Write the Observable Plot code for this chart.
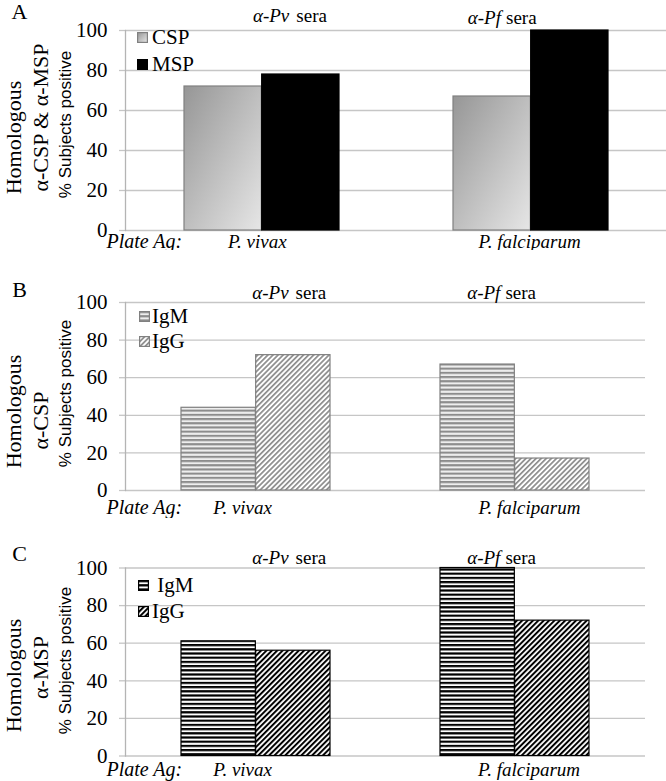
<!DOCTYPE html>
<html><head><meta charset="utf-8">
<script src="https://cdn.jsdelivr.net/npm/d3@7"></script>
<script src="https://cdn.jsdelivr.net/npm/@observablehq/plot@0.6"></script>
<style>
body{margin:0;background:#fff;}
.panel{position:relative;width:666px;}
.panel svg{display:block;}
.panel svg text{font-family:"Liberation Serif","Times New Roman","DejaVu Serif",serif;}
.panel svg g[font-family="Liberation Sans"] text{font-family:"Liberation Sans",Arial,sans-serif;}
.lg{position:absolute;display:flex;align-items:center;height:24px;white-space:nowrap;font-family:"Liberation Serif","Times New Roman",serif;font-size:21px;color:#000;}
.lg svg{display:block;}
</style></head>
<body>
<svg width="0" height="0" style="position:absolute">
<defs>
<linearGradient id="gradCSP" x1="0" y1="0" x2="1" y2="1">
<stop offset="0" stop-color="#969696"/><stop offset="1" stop-color="#e6e6e6"/>
</linearGradient>
<pattern id="hGray" patternUnits="userSpaceOnUse" width="8" height="4.2">
<rect width="8" height="4.2" fill="#eeeeee"/><rect width="8" height="2.1" fill="#8c8c8c"/>
</pattern>
<pattern id="dGray" patternUnits="userSpaceOnUse" width="3.6" height="8" patternTransform="rotate(45)">
<rect width="3.6" height="8" fill="#ffffff"/><rect width="1.7" height="8" fill="#8c8c8c"/>
</pattern>
<pattern id="hBlack" patternUnits="userSpaceOnUse" width="8" height="4.2">
<rect width="8" height="4.2" fill="#ffffff"/><rect width="8" height="2.2" fill="#000000"/>
</pattern>
<pattern id="dBlack" patternUnits="userSpaceOnUse" width="3.8" height="8" patternTransform="rotate(45)">
<rect width="3.8" height="8" fill="#ffffff"/><rect width="2" height="8" fill="#000000"/>
</pattern>
</defs>
</svg>
<div id="root"></div>
<script>
// ---- data ----
const groups = ["P. vivax", "P. falciparum"];
const seraLabels = ["α-Pv", "α-Pf"];
const yTicks = [0, 20, 40, 60, 80, 100];

const seriesA = ["CSP", "MSP"];
const valuesA_CSP = [72, 67];
const valuesA_MSP = [78, 100];

const seriesB = ["IgM", "IgG"];
const valuesB_IgM = [44, 67];
const valuesB_IgG = [72, 17];

const seriesC = ["IgM", "IgG"];
const valuesC_IgM = [61, 100];
const valuesC_IgG = [56, 72];

const SERIF = "Liberation Serif";
const SANS = "Liberation Sans";

function makePanel(c) {
  const ml = 125, W = 666, pi = 0.424, po = 0.215;
  const step = (W - ml - c.mr) / (groups.length - pi + 2 * po);
  const half = step * (1 - pi) / 2;
  const rows = (vals, s) => groups.map((g, i) => ({group: g, series: s, value: vals[i]}));
  const d0 = rows(c.vals[0], c.series[0]);
  const d1 = rows(c.vals[1], c.series[1]);
  const T = (extra) => Object.assign({text: d => d, fill: "#000", fontFamily: SERIF, textAnchor: "middle", lineAnchor: "middle"}, extra);
  const marks = [
    Plot.gridY({ticks: yTicks, stroke: "#c6c6c6", strokeOpacity: 1, strokeWidth: 1.3}),
    Plot.axisY({ticks: yTicks, tickSize: 6, tickPadding: 12, stroke: "#c6c6c6", strokeWidth: 1.3, fill: "#000", fontSize: 21, fontFamily: SERIF, label: null, tickFormat: d => d}),
    Plot.frame({anchor: "left", stroke: "#b4b4b4", strokeWidth: 1.3}),
    Plot.barY(d0, {x: "group", y: "value", fill: c.fills[0], stroke: c.strokes[0], strokeWidth: 1.2, insetRight: half}),
    Plot.barY(d1, {x: "group", y: "value", fill: c.fills[1], stroke: c.strokes[1], strokeWidth: 1.2, insetLeft: half}),
    // panel letter
    Plot.text([c.letter], T({frameAnchor: "top-left", dx: -106, dy: c.letterDy, fontSize: 22})),
    // rotated left labels
    Plot.text([c.ylab1], T({frameAnchor: "left", rotate: -90, dx: -112, dy: c.ylab1Dy, fontSize: 22})),
    Plot.text([c.ylab2], T({frameAnchor: "left", rotate: -90, dx: -85, dy: c.ylab2Dy, fontSize: 22})),
    Plot.text(["% Subjects positive"], T({frameAnchor: "left", rotate: -90, dx: -60, dy: c.subjDy, fontSize: 17, fontFamily: SANS})),
    // x labels
    Plot.text(["Plate Ag:"], T({frameAnchor: "bottom-left", textAnchor: "start", dx: -19, dy: c.xDy, fontSize: 20, fontStyle: "italic"})),
    Plot.text([groups[0]], T({x: d => d, frameAnchor: "bottom", dx: c.xDx[0], dy: c.xDy, fontSize: 19, fontStyle: "italic"})),
    Plot.text([groups[1]], T({x: d => d, frameAnchor: "bottom", dx: c.xDx[1], dy: c.xDy, fontSize: 19, fontStyle: "italic"})),
    // sera labels
    Plot.text([seraLabels[0]], T({x: () => groups[0], frameAnchor: "top", textAnchor: "end", dx: c.seraDx[0], dy: c.seraDy[0], fontSize: 19, fontStyle: "italic"})),
    Plot.text(["sera"], T({x: () => groups[0], frameAnchor: "top", textAnchor: "start", dx: c.seraDx[0] + 7, dy: c.seraDy[0], fontSize: 19})),
    Plot.text([seraLabels[1]], T({x: () => groups[1], frameAnchor: "top", textAnchor: "end", dx: c.seraDx[1], dy: c.seraDy[1], fontSize: 19, fontStyle: "italic"})),
    Plot.text(["sera"], T({x: () => groups[1], frameAnchor: "top", textAnchor: "start", dx: c.seraDx[1] + 5, dy: c.seraDy[1], fontSize: 19}))
  ];
  const svg = Plot.plot({
    width: W, height: c.h,
    marginLeft: ml, marginRight: c.mr, marginTop: c.mt, marginBottom: c.mb,
    style: {fontFamily: SERIF, background: "white", overflow: "visible", color: "#000"},
    x: {domain: groups, paddingInner: pi, paddingOuter: po, axis: null},
    y: {domain: [0, 100], axis: null},
    marks
  });
  const div = document.createElement("div");
  div.className = "panel";
  div.style.height = c.h + "px";
  div.appendChild(svg);
  // legend
  c.series.forEach((s, i) => {
    const item = document.createElement("div");
    item.className = "lg";
    item.style.left = c.lg.x + "px";
    item.style.top = (c.lg.y[i] - 12) + "px";
    item.innerHTML = `<svg width="11" height="11" style="margin-right:${c.lg.gap}px"><rect x="0.6" y="0.6" width="9.8" height="9.8" fill="${c.fills[i]}" stroke="${c.strokes[i]}" stroke-width="1.2"/></svg><span>${s}</span>`;
    div.appendChild(item);
  });
  return div;
}

const root = document.getElementById("root");
root.appendChild(makePanel({
  h: 250, mt: 30, mb: 20, mr: 0, letter: "A",
  series: seriesA, vals: [valuesA_CSP, valuesA_MSP],
  fills: ["url(#gradCSP)", "#000000"], strokes: ["#808080", "#000000"],
  letterDy: -18.5, ylab1: "Homologous", ylab2: "α-CSP & α-MSP", ylab1Dy: 7, ylab2Dy: -13, subjDy: -6,
  xDy: 11, xDx: [-4.7, -1.4], seraDx: [27.3, -30], seraDy: [-15, -12.5],
  lg: {x: 137, y: [37, 64], gap: 4}
}));
root.appendChild(makePanel({
  h: 268, mt: 52, mb: 28, mr: 21, letter: "B",
  series: seriesB, vals: [valuesB_IgM, valuesB_IgG],
  fills: ["url(#hGray)", "url(#dGray)"], strokes: ["#808080", "#808080"],
  letterDy: -13, ylab1: "Homologous", ylab2: "α-CSP", ylab1Dy: 15, ylab2Dy: 24, subjDy: -3,
  xDy: 17, xDx: [-13.4, 14.4], seraDx: [32.6, -14.6], seraDy: [-10, -10],
  lg: {x: 139, y: [316, 341].map(v => v - 250), gap: 2}
}));
root.appendChild(makePanel({
  h: 263, mt: 49.5, mb: 25.5, mr: 21, letter: "C",
  series: seriesC.map((s, i) => i === 0 ? "\u00a0" + s : s), vals: [valuesC_IgM, valuesC_IgG],
  fills: ["url(#hBlack)", "url(#dBlack)"], strokes: ["#000000", "#000000"],
  letterDy: -14.5, ylab1: "Homologous", ylab2: "α-MSP", ylab1Dy: 13.5, ylab2Dy: 5.5, subjDy: -1.5,
  xDy: 13.5, xDx: [-13.4, 14], seraDx: [32.6, -14.6], seraDy: [-10, -10],
  lg: {x: 138, y: [585, 611].map(v => v - 518), gap: 3}
}));
</script>
</body></html>
